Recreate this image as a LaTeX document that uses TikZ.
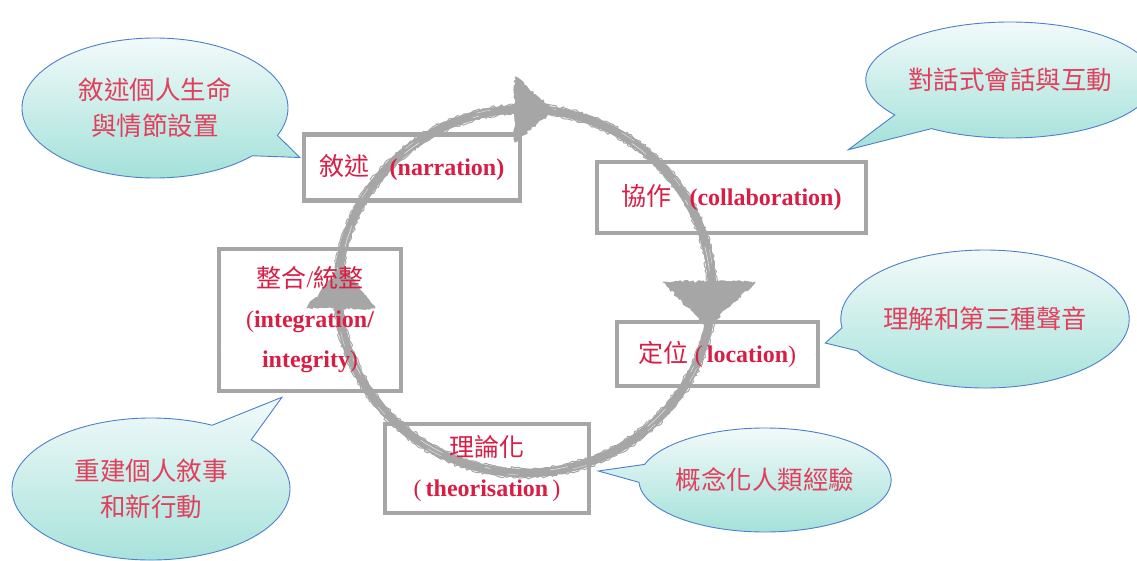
\documentclass[tikz,border=0pt]{standalone}
\usepackage{fontspec}
\setmainfont{Liberation Serif}
\newfontfamily\cjk{Noto Sans CJK TC}
\usetikzlibrary{shapes.callouts,decorations.pathmorphing,calc}
\definecolor{pencil}{HTML}{A6A6A6}
\definecolor{boxred}{HTML}{D81E45}
\definecolor{bubred}{HTML}{E0405C}
\definecolor{bubblue}{HTML}{4C7FCC}
\definecolor{bubtop}{HTML}{F2FAFA}
\definecolor{bubbot}{HTML}{A3E1D9}
\newcommand\zhtxt[1]{{\cjk\mdseries\fontsize{25}{40}\selectfont #1}}
\begin{document}
\begin{tikzpicture}[x=1pt,y=-1pt,
  rough/.style={decorate, decoration={random steps, segment length=2.5pt, amplitude=1.4pt}},
  stagebox/.style={draw=pencil, line width=4.5pt, inner sep=0pt, align=center, text=boxred,
     font=\fontsize{24}{40}\selectfont\bfseries,
     postaction={draw=pencil, line width=1.1pt, rough}},
  bubble/.style={ellipse callout, draw=bubblue, line width=0.9pt, top color=bubtop,
     bottom color=bubbot, text=bubred, align=center, inner sep=0pt,
     callout pointer arc=20, font=\cjk\fontsize{25.5}{36}\selectfont},
  ahead/.style={fill=pencil, draw=pencil, line width=1pt, line join=round, rough}
]
\pgfmathsetseed{7}
\useasboundingbox (0,0) rectangle (1137,561);

% pencil cycle
\coordinate (c) at (525,291);
\draw[pencil, line width=8.5pt] (c) ellipse [x radius=187, y radius=182];
\draw[pencil, line width=1pt, rough] (c) ellipse [x radius=191.5, y radius=186.5];
\draw[pencil, line width=1pt, rough] (c) ellipse [x radius=182.5, y radius=177.5];
\draw[white, line width=0.6pt, opacity=0.7, dash pattern=on 18pt off 60pt on 6pt off 45pt on 25pt off 90pt] (c) ellipse [x radius=185.5, y radius=180.5];
\draw[white, line width=0.5pt, opacity=0.6, dash pattern=on 10pt off 70pt on 15pt off 55pt] (c) ellipse [x radius=189, y radius=184];

% arrowheads
\fill[ahead] (515,77) -- (553,110) -- (515,142) -- cycle;
\fill[ahead] (663,282) -- (755,282) -- (707,327) -- cycle;
\fill[ahead] (307,308) -- (375,308) -- (343,266) -- cycle;

% stage boxes
\node[stagebox, minimum width=216pt, minimum height=66pt] (nar) at (412,167.5)
  {\zhtxt{敘述}\hspace{20pt}(narration)};
\node[stagebox, minimum width=269pt, minimum height=71pt] (col) at (731.5,197.5)
  {\zhtxt{協作}\hspace{18pt}(collaboration)};
\node[stagebox, minimum width=201pt, minimum height=64pt] (loc) at (717.5,354)
  {\zhtxt{定位}\hspace{6pt}{\mdseries(}\,location{\mdseries)}};
\node[stagebox, minimum width=204pt, minimum height=89pt] (the) at (487,468.5)
  {\zhtxt{理論化}\\{\mdseries(}\,theorisation\,{\mdseries)}};
\node[stagebox, minimum width=182pt, minimum height=142pt] (int) at (310,320)
  {\zhtxt{整合}{\mdseries/}\zhtxt{統整}\\{\mdseries(}integration/\\integrity{\mdseries)}};

% pointer tips
\coordinate (p1) at ($(nar.west)+(-2,-10)$);
\coordinate (p2) at ($(col.north east)+(-20,-10)$);
\coordinate (p3) at ($(loc.east)+(5,-11)$);
\coordinate (p4) at ($(the.east)+(7,2.5)$);
\coordinate (p5) at ($(int.south)+(-28,4)$);

% callout bubbles
\node[bubble, minimum width=266pt, minimum height=140pt, callout absolute pointer={(p1)}] (b1) at (155,108)
  {敘述個人生命\\與情節設置};
\node[bubble, minimum width=264pt, minimum height=116pt, callout absolute pointer={(p2)}] (b2) at (1010,80)
  {對話式會話與互動};
\node[bubble, minimum width=244pt, minimum height=138pt, callout absolute pointer={(p3)}] (b3) at (985,319)
  {理解和第三種聲音};
\node[bubble, minimum width=216pt, minimum height=104pt, callout absolute pointer={(p4)}] (b4) at (765,480)
  {概念化人類經驗};
\node[bubble, minimum width=278pt, minimum height=142pt, callout absolute pointer={(p5)}] (b5) at (151,489)
  {重建個人敘事\\和新行動};
\end{tikzpicture}
\end{document}
